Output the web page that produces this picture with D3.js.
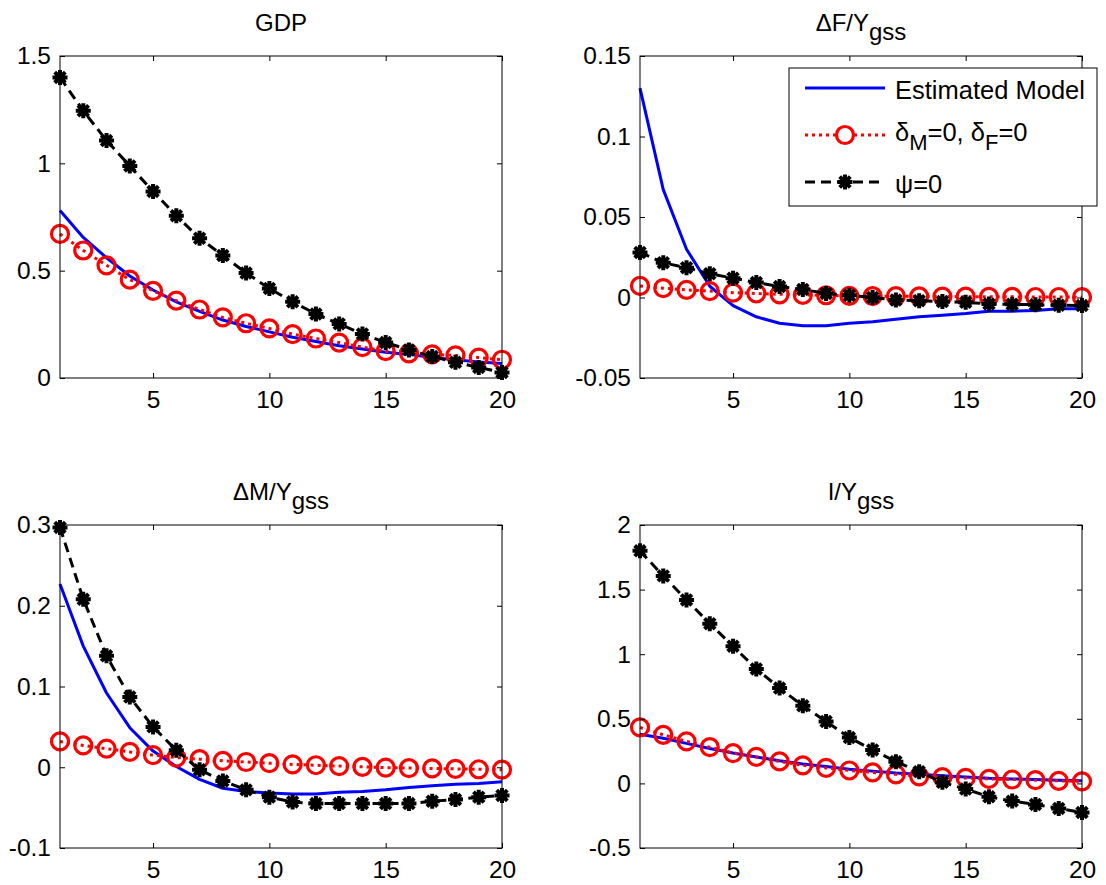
<!DOCTYPE html>
<html>
<head>
<meta charset="utf-8">
<title>Impulse responses</title>
<script src="https://d3js.org/d3.v7.min.js"></script>
<style>
body { margin: 0; background: #fff; }
svg text { font-family: "Liberation Sans", Arial, sans-serif; fill: #000; }
.title { font-size: 24px; }
.legend text { font-size: 25.5px; }
</style>
</head>
<body>
<div id="chart"></div>
<script>
// horizon (quarters)
var periods = [1,2,3,4,5,6,7,8,9,10,11,12,13,14,15,16,17,18,19,20];
var xTicks = [5, 10, 15, 20];

// GDP
var gdpEstimated = [0.78,0.655,0.56,0.475,0.41,0.355,0.31,0.27,0.24,0.215,0.19,0.17,0.15,0.135,0.12,0.11,0.095,0.085,0.075,0.068];
var gdpNoDelta   = [0.671,0.594,0.525,0.458,0.406,0.36,0.319,0.282,0.255,0.231,0.204,0.184,0.165,0.144,0.125,0.115,0.11,0.105,0.095,0.085];
var gdpNoPsi     = [1.40,1.245,1.106,0.988,0.869,0.756,0.651,0.571,0.489,0.417,0.355,0.298,0.252,0.205,0.165,0.131,0.100,0.073,0.049,0.026];
var gdpTicks = [0, 0.5, 1, 1.5];

// change in F over steady state output
var dfEstimated = [0.130,0.067,0.030,0.007,-0.005,-0.012,-0.016,-0.0175,-0.0175,-0.016,-0.015,-0.0135,-0.012,-0.011,-0.010,-0.0085,-0.0085,-0.008,-0.007,-0.007];
var dfNoDelta   = [0.0072,0.0058,0.0047,0.004,0.003,0.0025,0.002,0.0016,0.0014,0.001,0.0009,0.0008,0.0007,0.0006,0.0005,0.0004,0.0004,0.0003,0.0003,0.0002];
var dfNoPsi     = [0.028,0.0216,0.0185,0.0148,0.012,0.0093,0.0068,0.005,0.0025,0.0014,0.0,-0.0016,-0.002,-0.0025,-0.003,-0.004,-0.0042,-0.0045,-0.0048,-0.005];
var dfTicks = [-0.05, 0, 0.05, 0.1, 0.15];

// change in M over steady state output
var dmEstimated = [0.227,0.15,0.092,0.049,0.020,0.001,-0.015,-0.026,-0.030,-0.032,-0.033,-0.033,-0.031,-0.030,-0.028,-0.025,-0.023,-0.021,-0.020,-0.018];
var dmNoDelta   = [0.032,0.027,0.023,0.019,0.015,0.012,0.010,0.008,0.0065,0.005,0.0035,0.0025,0.0015,0.0005,-0.0005,-0.001,-0.0015,-0.002,-0.0025,-0.003];
var dmNoPsi     = [0.297,0.208,0.138,0.087,0.050,0.021,-0.003,-0.017,-0.028,-0.037,-0.043,-0.045,-0.045,-0.045,-0.045,-0.045,-0.042,-0.040,-0.037,-0.035];
var dmTicks = [-0.1, 0, 0.1, 0.2, 0.3];

// investment over steady state output
var invEstimated = [0.38,0.35,0.31,0.27,0.235,0.205,0.175,0.15,0.13,0.11,0.095,0.08,0.07,0.06,0.05,0.04,0.035,0.03,0.025,0.02];
var invNoDelta   = [0.433,0.376,0.325,0.28,0.235,0.205,0.17,0.14,0.12,0.1,0.085,0.07,0.055,0.048,0.042,0.035,0.03,0.025,0.02,0.015];
var invNoPsi     = [1.80,1.606,1.42,1.236,1.062,0.886,0.738,0.601,0.479,0.355,0.259,0.168,0.091,0.008,-0.044,-0.104,-0.137,-0.163,-0.194,-0.225];
var invTicks = [-0.5, 0, 0.5, 1, 1.5, 2];

var legendLabels = ["Estimated Model", "δ_M=0, δ_F=0", "ψ=0"];

var W = 1106, H = 885;
var svg = d3.select("#chart").append("svg")
  .attr("width", W)
  .attr("height", H);

var panels = [
  { title: ["GDP", ""], left: 60, top: 56, right: 502, bottom: 378,
    domain: [0, 1.5], ticks: gdpTicks, series: [gdpEstimated, gdpNoDelta, gdpNoPsi] },
  { title: ["ΔF/Y", "gss"], left: 640, top: 56, right: 1082, bottom: 378,
    domain: [-0.05, 0.15], ticks: dfTicks, series: [dfEstimated, dfNoDelta, dfNoPsi] },
  { title: ["ΔM/Y", "gss"], left: 60, top: 525, right: 502, bottom: 848,
    domain: [-0.1, 0.3], ticks: dmTicks, series: [dmEstimated, dmNoDelta, dmNoPsi] },
  { title: ["I/Y", "gss"], left: 640, top: 525, right: 1082, bottom: 848,
    domain: [-0.5, 2], ticks: invTicks, series: [invEstimated, invNoDelta, invNoPsi] }
];

// matlab '*' marker drawn thick
function starPath(r) {
  var a = r * Math.SQRT1_2;
  return "M" + (-r) + ",0L" + r + ",0M0," + (-r) + "L0," + r +
    "M" + (-a) + "," + (-a) + "L" + a + "," + a +
    "M" + (-a) + "," + a + "L" + a + "," + (-a);
}

function addStar(g, cx, cy) {
  g.append("path")
    .attr("transform", "translate(" + cx + "," + cy + ")")
    .attr("d", starPath(7.5))
    .attr("fill", "none")
    .attr("stroke", "#000")
    .attr("stroke-width", 4)
    .attr("stroke-linecap", "butt");
  g.append("circle")
    .attr("cx", cx).attr("cy", cy).attr("r", 3.5)
    .attr("fill", "#000");
}

function drawSeries(g, data, kind, x, y) {
  var line = d3.line()
    .x(function(d, i) { return x(periods[i]); })
    .y(function(d) { return y(d); });

  if (kind === 0) {
    g.append("path").datum(data)
      .attr("d", line)
      .attr("fill", "none")
      .attr("stroke", "#0000ff")
      .attr("stroke-width", 3)
      .attr("stroke-linejoin", "round");
  } else if (kind === 1) {
    g.append("path").datum(data)
      .attr("d", line)
      .attr("fill", "none")
      .attr("stroke", "#ff0000")
      .attr("stroke-width", 3)
      .attr("stroke-dasharray", "3,4");
    g.selectAll("circle.m").data(data).enter().append("circle")
      .attr("class", "m")
      .attr("cx", function(d, i) { return x(periods[i]); })
      .attr("cy", function(d) { return y(d); })
      .attr("r", 8.5)
      .attr("fill", "none")
      .attr("stroke", "#ff0000")
      .attr("stroke-width", 3.2);
  } else {
    g.append("path").datum(data)
      .attr("d", line)
      .attr("fill", "none")
      .attr("stroke", "#000")
      .attr("stroke-width", 3)
      .attr("stroke-dasharray", "10,6");
    data.forEach(function(d, i) { addStar(g, x(periods[i]), y(d)); });
  }
}

panels.forEach(function(p) {
  var x = d3.scaleLinear().domain([1, 20]).range([p.left, p.right]);
  var y = d3.scaleLinear().domain(p.domain).range([p.bottom, p.top]);
  var g = svg.append("g");

  var clipId = "clip" + p.left + "_" + p.top;
  svg.append("clipPath").attr("id", clipId)
    .append("rect")
      .attr("x", p.left - 12).attr("y", p.top - 12)
      .attr("width", p.right - p.left + 24).attr("height", p.bottom - p.top + 24);

  var plot = g.append("g").attr("clip-path", "url(#" + clipId + ")");
  p.series.forEach(function(s, k) { drawSeries(plot, s, k, x, y); });

  // axes with inward ticks on all four sides
  var fmt = function(d) { return String(+d.toFixed(3)); };
  g.append("g")
    .attr("transform", "translate(0," + p.bottom + ")")
    .call(d3.axisBottom(x).tickValues(xTicks).tickSizeInner(-5).tickSizeOuter(0).tickPadding(13).tickFormat(fmt))
    .call(function(a) { a.select(".domain").remove(); });
  g.append("g")
    .attr("transform", "translate(0," + p.top + ")")
    .call(d3.axisTop(x).tickValues(xTicks).tickSizeInner(-5).tickSizeOuter(0).tickFormat(""))
    .call(function(a) { a.select(".domain").remove(); });
  g.append("g")
    .attr("transform", "translate(" + p.left + ",0)")
    .call(d3.axisLeft(y).tickValues(p.ticks).tickSizeInner(-5).tickSizeOuter(0).tickPadding(9).tickFormat(fmt))
    .call(function(a) { a.select(".domain").remove(); });
  g.append("g")
    .attr("transform", "translate(" + p.right + ",0)")
    .call(d3.axisRight(y).tickValues(p.ticks).tickSizeInner(-5).tickSizeOuter(0).tickFormat(""))
    .call(function(a) { a.select(".domain").remove(); });
  g.selectAll(".tick line").attr("stroke", "#000");
  g.selectAll("g[font-size]").attr("font-size", 24.5).attr("font-family", null);

  g.append("rect")
    .attr("x", p.left).attr("y", p.top)
    .attr("width", p.right - p.left).attr("height", p.bottom - p.top)
    .attr("fill", "none").attr("stroke", "#000").attr("stroke-width", 1);

  // title
  var t = g.append("text")
    .attr("class", "title")
    .attr("x", (p.left + p.right) / 2)
    .attr("y", p.top - 25)
    .attr("text-anchor", "middle");
  t.append("tspan").text(p.title[0]);
  if (p.title[1]) {
    t.append("tspan").attr("dy", 9).text(p.title[1]);
  }
});

// legend in the top right panel
var lg = svg.append("g").attr("class", "legend");
lg.append("rect")
  .attr("x", 789).attr("y", 68)
  .attr("width", 308).attr("height", 138)
  .attr("fill", "#fff").attr("stroke", "#000").attr("stroke-width", 1);

var rows = [88, 135, 182];
var lx = d3.scaleLinear().domain([0, 1]).range([805, 885]);

rows.forEach(function(ry, k) {
  var lineSel = lg.append("line")
    .attr("x1", lx(0)).attr("x2", lx(1))
    .attr("y1", ry).attr("y2", ry)
    .attr("stroke-width", 3);
  if (k === 0) lineSel.attr("stroke", "#0000ff");
  if (k === 1) {
    lineSel.attr("stroke", "#ff0000").attr("stroke-dasharray", "3,4");
    lg.append("circle").attr("cx", lx(0.5)).attr("cy", ry).attr("r", 8.5)
      .attr("fill", "#fff").attr("stroke", "#ff0000").attr("stroke-width", 3.2);
  }
  if (k === 2) {
    lineSel.attr("stroke", "#000").attr("stroke-dasharray", "10,6");
    addStar(lg, lx(0.5), ry);
  }
});

lg.append("text").attr("x", 895).attr("y", 99).text(legendLabels[0]);

var t2 = lg.append("text").attr("x", 895).attr("y", 141);
t2.append("tspan").text("δ");
t2.append("tspan").attr("dy", 9).style("font-size", "22px").text("M");
t2.append("tspan").attr("dy", -9).text("=0, δ");
t2.append("tspan").attr("dy", 9).style("font-size", "22px").text("F");
t2.append("tspan").attr("dy", -9).text("=0");

lg.append("text").attr("x", 895).attr("y", 193).text(legendLabels[2]);
</script>
</body>
</html>
